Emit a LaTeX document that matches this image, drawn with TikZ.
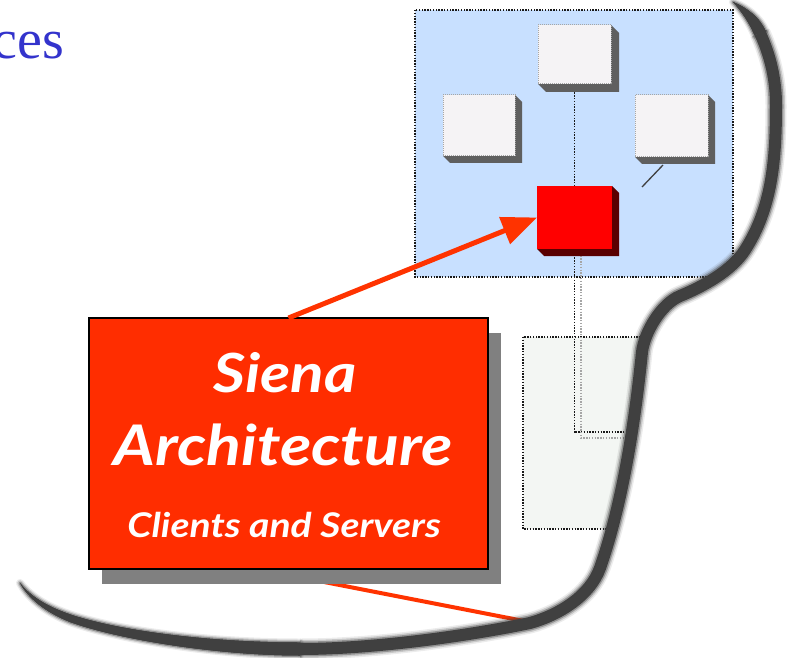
\documentclass[tikz,border=0pt]{standalone}
\usepackage{fontspec}
\usetikzlibrary{calc,arrows.meta}
\newfontfamily\cesfont{Liberation Serif}
\newfontfamily\boxfont[FakeStretch=1.15]{Lato}
\pgfdeclarelayer{back}
\pgfdeclarelayer{mid}
\pgfsetlayers{back,mid,main}
\definecolor{cesblue}{RGB}{51,51,204}
\definecolor{panelblue}{RGB}{200,224,255}
\definecolor{panelgreen}{RGB}{243,246,243}
\definecolor{facewhite}{RGB}{245,243,245}
\definecolor{extgray}{RGB}{95,95,95}
\definecolor{redsq}{RGB}{255,0,0}
\definecolor{redsqdark}{RGB}{90,0,0}
\definecolor{boxred}{RGB}{255,45,0}
\definecolor{arrowred}{RGB}{255,51,0}
\definecolor{boxshadow}{RGB}{128,128,128}
\definecolor{sg}{RGB}{64,64,64}
\tikzset{
  plainbox/.style={rectangle, inner sep=0pt, outer sep=0pt},
  facebox/.style={plainbox, fill=facewhite, draw=black!35, line width=1pt, dash pattern=on 1pt off 1pt},
  redsquare/.style={plainbox, fill=redsq},
  panel/.style={draw=black!90, line width=1.4pt, dash pattern=on 1.4pt off 1.4pt},
  dotline/.style={draw=black!90, line width=1.4pt, dash pattern=on 1.4pt off 1.4pt},
  lightdot/.style={draw=black!35, line width=1.4pt, dash pattern=on 1.4pt off 1.4pt},
  bigbox/.style={plainbox, fill=boxred, draw=black, line width=1.5pt},
  boxtext/.style={text=white, inner sep=0pt, anchor=base},
}
\newcommand\extrude[3]{\fill[#2] (#1.north east) -- ++(#3,#3) -- ($(#1.south east)+(#3,#3)$) -- ($(#1.south west)+(#3,#3)$) -- (#1.south west) -- cycle;}
\begin{document}
\begin{tikzpicture}[x=1pt,y=-1pt]
\useasboundingbox (0,0) rectangle (790,658);
% title fragment
\node[anchor=base east, text=cesblue, inner sep=0pt, font=\cesfont\fontsize{56}{60}\selectfont] (ces) at (64,59) {ces};
% panels (drawn on back layer)
\node[plainbox, minimum width=318pt, minimum height=267pt] (bp) at (574,143.5) {};
\node[plainbox, minimum width=137pt, minimum height=192pt] (gp) at (591.5,433) {};
% white boxes and red square
\node[facebox, minimum width=73pt, minimum height=59pt] (T) at (574.5,54.5) {};
\node[facebox, minimum width=72pt, minimum height=61pt] (L) at (479,125.5) {};
\node[facebox, minimum width=73pt, minimum height=62pt] (R) at (671.5,126) {};
\node[redsquare, minimum width=75pt, minimum height=63pt] (S) at (574.5,217.5) {};
% big red box
\node[bigbox, minimum width=399pt, minimum height=251pt] (rb) at (288.5,443.5) {};
\node[boxtext, font=\boxfont\bfseries\itshape\fontsize{54}{54}\selectfont] (t1) at (285,392) {Siena};
\node[boxtext, font=\boxfont\bfseries\itshape\fontsize{56}{56}\selectfont] (t2) at (283,465) {Architecture};
\node[boxtext, font=\boxfont\bfseries\itshape\fontsize{34}{34}\selectfont] (t3) at (284,537) {Clients and Servers};
% coordinates
\coordinate (d1) at (574,432);
\coordinate (d2) at (660,432);
\coordinate (l0) at (581,250);
\coordinate (l1) at (581,438);
\coordinate (l2) at (660,438);
\coordinate (rd0) at ($(R.south)+(-8.5,8)$);
\coordinate (rd1) at (642,187);
\coordinate (rl0) at ($(rb.south)+(-31,0)$);
\coordinate (rl1) at (524,621);
\begin{pgfonlayer}{back}
  \begin{scope}
    \clip (733,0) -- (760,33) .. controls (770.5,55.8) and (776,80) .. (776,105)
      .. controls (776,160) and (772,208) .. (745,250)
      .. controls (731.5,271) and (703,286.5) .. (680,296)
      .. controls (661.4,303.6) and (644.4,332.2) .. (642,352)
      .. controls (635,421) and (623,502) .. (600,568)
      .. controls (590,596) and (559,615) .. (530,623)
      .. controls (462,637) and (370,649) .. (300,649)
      -- (0,649) -- (0,0) -- cycle;
    \fill[panelblue] (bp.north west) rectangle (bp.south east);
    \draw[panel] (bp.north west) rectangle (bp.south east);
    \fill[panelgreen] (gp.north west) rectangle (gp.south east);
    \draw[panel] (gp.north west) rectangle (gp.south east);
    \draw[dotline] (S.south) |- (d1) -- (d2);
    \draw[lightdot] (l0) -- (l1) -- (l2);
    \draw[arrowred, line width=4pt] (rl0) -- (rl1);
  \end{scope}
  \draw[dotline] (T.south) -- (S.north);
  \draw[sg, line width=1.3pt] (rd0) -- (rd1);
\end{pgfonlayer}
\begin{pgfonlayer}{mid}
  \extrude{T}{extgray}{8}
  \extrude{L}{extgray}{7}
  \extrude{R}{extgray}{7}
  \extrude{S}{redsqdark}{7}
  \fill[boxshadow] ($(rb.north west)+(13,15)$) rectangle ($(rb.south east)+(13,15)$);
\end{pgfonlayer}
% arrow
\draw[arrowred, line width=5pt, -{Triangle[length=35pt,width=28pt]}] (rb.north) -- (S.west);
% big page shadow: main stroke with soft edges
\foreach \w/\o in {21/0.1,18/0.2,15/0.4,12/1}{
\draw[sg, line width=\w pt, draw opacity=\o] (760,33) .. controls (770.5,55.8) and (776,80) .. (776,105)
      .. controls (776,160) and (772,208) .. (745,250)
      .. controls (731.5,271) and (703,286.5) .. (680,296)
      .. controls (661.4,303.6) and (644.4,332.2) .. (642,352)
      .. controls (635,421) and (623,502) .. (600,568)
      .. controls (590,596) and (559,615) .. (530,623)
      .. controls (462,637) and (370,649) .. (300,649);
}
% tapered ends
\foreach \w/\o in {8/0.1,5.5/0.2,3/0.4}{
\path[draw=sg, fill=sg, line width=\w pt, draw opacity=\o, line join=round]
  (300,655.5) .. controls (220,655.5) and (120,640) .. (70,622)
  .. controls (45,612) and (28,598) .. (20,583)
  .. controls (32,598) and (50,608) .. (75,616)
  .. controls (130,633) and (220,642.5) .. (300,642.5) -- cycle;
\path[draw=sg, fill=sg, line width=\w pt, draw opacity=\o, line join=round]
  (733,2) .. controls (748,8) and (760,18) .. (765.6,30.9)
  -- (754.4,35.1) .. controls (750,24) and (742,12) .. (733,2) -- cycle;
}
\end{tikzpicture}
\end{document}
